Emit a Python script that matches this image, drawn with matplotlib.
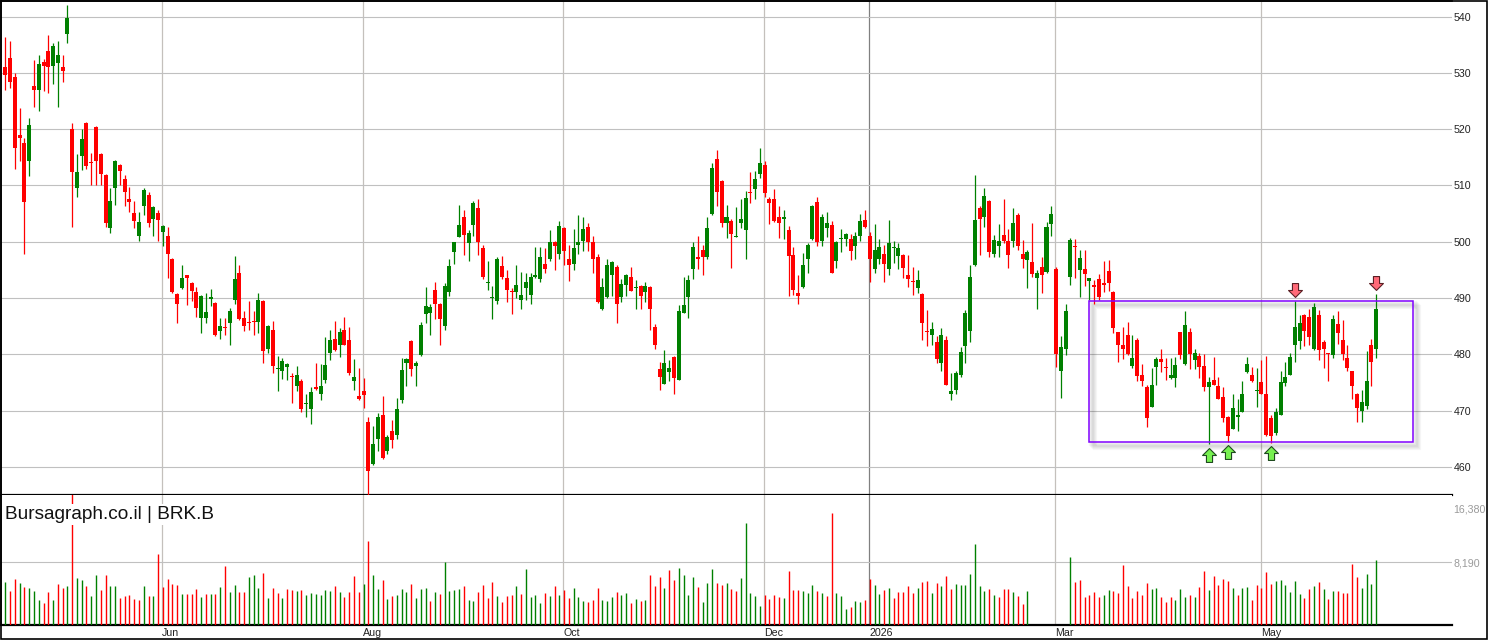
import numpy as np
import matplotlib
matplotlib.use("Agg")
import matplotlib.pyplot as plt
import matplotlib.transforms as mtransforms
from matplotlib.path import Path
from matplotlib.patches import Rectangle

plt.rcParams['font.family'] = ['Liberation Sans', 'DejaVu Sans']

# daily OHLC (BRK.B)
opens = [
    531.1, 532.7, 529.3, 519.0, 517.6, 514.3, 527.6, 526.9, 531.9, 533.8,
    531.2, 531.8, 531.1, 536.9, 520.0, 509.6, 515.2, 521.0, 514.2, 520.3,
    515.6, 511.9, 502.5, 509.6, 513.7, 511.2, 507.5, 505.1, 501.1, 506.4,
    508.3, 504.1, 505.1, 501.8, 501.1, 497.0, 490.7, 491.7, 494.0, 492.7,
    491.0, 486.4, 486.4, 489.8, 489.1, 484.2, 484.9, 485.5, 489.6, 494.5,
    486.5, 485.8, 486.0, 485.8, 489.5, 480.9, 484.4, 477.3, 477.1, 477.8,
    476.2, 474.3, 475.3, 471.2, 470.2, 474.0, 473.0, 475.5, 480.3, 482.7,
    481.7, 484.4, 482.6, 475.2, 472.6, 473.5, 468.0, 460.5, 465.0, 469.2,
    462.9, 466.4, 465.6, 471.8, 478.4, 482.4, 478.0, 479.8, 487.1, 487.3,
    491.5, 489.0, 485.1, 491.1, 498.1, 500.9, 504.3, 499.7, 502.9, 506.0,
    498.9, 492.6, 490.0, 489.4, 495.7, 493.6, 491.3, 491.0, 489.7, 491.8,
    490.6, 493.8, 493.3, 496.1, 497.0, 500.0, 497.8, 502.5, 497.0, 496.0,
    499.5, 500.2, 502.6, 500.0, 497.3, 488.1, 490.1, 494.0, 495.5, 490.1,
    492.3, 493.8, 491.7, 492.2, 491.0, 492.0, 484.9, 477.3, 474.8, 476.8,
    479.5, 475.5, 487.4, 490.1, 495.1, 497.2, 498.5, 497.2, 504.9, 514.7,
    510.8, 503.4, 503.7, 500.9, 503.4, 502.0, 508.8, 509.3, 512.0, 513.7,
    507.6, 507.5, 504.4, 504.0, 502.1, 497.7, 490.9, 491.9, 496.9, 500.4,
    507.1, 500.1, 502.4, 503.0, 496.5, 500.4, 500.4, 500.5, 499.3, 501.1,
    503.9, 501.1, 495.1, 496.9, 497.9, 495.1, 498.9, 497.4, 497.7, 494.1,
    492.9, 491.7, 490.7, 484.0, 483.4, 482.2, 478.5, 482.6, 473.0, 473.7,
    476.4, 481.4, 484.1, 495.8, 505.9, 504.3, 507.3, 497.9, 499.3, 501.2,
    500.2, 500.1, 504.8, 497.9, 496.7, 496.4, 493.5, 495.5, 494.7, 503.1,
    495.2, 477.1, 481.0, 493.8, 499.3, 494.9, 495.2, 493.1, 492.3, 493.4,
    492.7, 494.8, 491.1, 483.9, 481.6, 483.5, 478.0, 482.6, 476.3, 474.2,
    470.7, 477.8, 479.1, 477.8, 475.7, 475.7, 483.9, 478.2, 484.0, 478.9,
    479.7, 477.9, 474.1, 475.5, 474.3, 472.4, 468.9, 466.8, 468.9, 469.8,
    476.8, 476.3, 473.4, 475.1, 473.0, 468.6, 466.1, 469.3, 474.9, 476.4,
    481.7, 482.4, 487.0, 486.6, 481.0, 487.0, 482.1, 480.1, 479.8, 485.4,
    482.6, 479.4, 477.0, 473.0, 470.0, 470.9, 481.6, 481.0,
]
highs = [
    536.4, 535.7, 530.0, 523.8, 518.5, 522.0, 532.2, 533.1, 532.4, 536.8,
    535.3, 535.6, 533.2, 542.0, 521.0, 515.6, 520.0, 521.2, 515.8, 520.5,
    515.8, 512.0, 509.6, 514.5, 513.8, 511.9, 509.8, 507.3, 505.3, 509.6,
    508.9, 506.4, 505.6, 502.9, 502.6, 497.1, 490.8, 495.9, 494.1, 492.8,
    492.0, 490.5, 490.9, 491.6, 489.2, 486.4, 486.4, 488.3, 497.5, 495.9,
    487.7, 489.5, 487.6, 490.9, 489.7, 485.2, 485.9, 479.7, 479.4, 478.4,
    476.6, 477.9, 475.6, 472.9, 474.1, 478.5, 478.2, 483.0, 484.4, 485.9,
    484.7, 486.7, 484.9, 479.2, 477.6, 475.8, 468.8, 467.3, 469.5, 472.5,
    465.7, 468.3, 472.3, 479.3, 479.3, 482.5, 478.8, 485.8, 492.0, 488.9,
    492.9, 489.1, 492.6, 497.0, 500.0, 506.6, 505.6, 502.0, 507.3, 507.5,
    499.4, 496.6, 492.1, 497.2, 497.5, 495.0, 491.8, 495.9, 494.7, 494.4,
    494.5, 499.1, 499.1, 498.8, 502.0, 500.2, 503.6, 502.6, 499.4, 502.3,
    504.8, 504.3, 503.4, 501.1, 497.9, 493.6, 497.0, 496.6, 495.9, 493.3,
    494.3, 495.5, 493.2, 492.3, 492.9, 492.2, 485.4, 478.7, 480.8, 479.0,
    479.7, 488.8, 493.8, 494.0, 500.0, 501.1, 499.4, 504.3, 514.0, 516.3,
    511.0, 506.6, 504.1, 506.2, 507.6, 509.0, 512.3, 512.6, 516.7, 514.4,
    508.0, 509.4, 506.4, 505.7, 502.8, 499.1, 494.1, 498.0, 499.8, 506.5,
    508.0, 505.0, 505.3, 503.7, 500.2, 502.2, 501.5, 501.4, 501.7, 505.0,
    505.7, 501.8, 503.2, 500.5, 499.5, 503.9, 500.2, 499.8, 497.9, 497.6,
    495.5, 495.0, 490.8, 487.9, 485.8, 483.3, 484.7, 483.3, 476.7, 477.1,
    481.3, 487.9, 495.9, 511.9, 506.4, 509.6, 507.4, 501.2, 503.2, 507.6,
    502.3, 505.9, 505.1, 500.3, 498.5, 503.4, 495.0, 497.2, 503.5, 506.4,
    495.5, 483.3, 489.0, 500.7, 500.5, 498.5, 498.5, 493.6, 493.2, 494.3,
    496.5, 496.8, 491.3, 484.0, 484.9, 485.8, 483.4, 482.9, 478.2, 474.6,
    477.5, 479.6, 481.0, 479.4, 479.4, 479.6, 484.0, 487.7, 484.7, 481.0,
    480.3, 480.0, 476.0, 479.5, 475.9, 474.1, 469.0, 472.9, 472.0, 475.3,
    479.5, 477.8, 477.5, 478.9, 479.7, 469.3, 470.5, 477.1, 478.7, 480.3,
    489.4, 487.0, 487.1, 488.1, 489.1, 487.9, 482.6, 480.3, 487.0, 487.6,
    486.1, 481.7, 477.1, 473.1, 473.7, 480.5, 482.8, 490.7,
]
lows = [
    526.9, 527.3, 512.9, 514.4, 497.9, 511.6, 523.9, 523.2, 526.7, 526.5,
    528.1, 523.9, 528.3, 535.3, 502.7, 507.9, 512.8, 513.0, 510.1, 510.1,
    510.1, 502.7, 501.5, 506.6, 510.0, 506.4, 505.3, 502.5, 500.2, 504.8,
    502.7, 501.1, 500.1, 499.3, 493.5, 490.9, 485.5, 491.6, 488.8, 489.4,
    486.6, 483.8, 485.6, 488.5, 483.2, 482.7, 483.5, 481.6, 488.9, 486.1,
    484.1, 484.3, 483.4, 483.8, 478.5, 480.3, 476.6, 473.4, 475.6, 475.4,
    471.3, 473.4, 469.8, 468.8, 467.6, 473.7, 471.8, 474.9, 479.0, 480.6,
    479.5, 481.6, 476.3, 473.7, 471.9, 470.5, 454.4, 460.3, 462.9, 461.4,
    462.3, 463.4, 464.9, 471.4, 474.3, 476.2, 474.4, 479.7, 485.6, 483.5,
    486.3, 481.7, 484.4, 490.4, 496.0, 500.8, 497.6, 496.5, 501.1, 497.6,
    493.3, 491.4, 486.2, 489.0, 493.3, 489.3, 487.1, 490.0, 488.0, 489.7,
    489.0, 493.5, 492.9, 494.5, 496.5, 494.9, 496.9, 495.8, 493.1, 494.9,
    497.9, 498.4, 498.4, 494.4, 489.1, 487.8, 490.0, 490.3, 485.6, 489.2,
    490.3, 491.2, 488.1, 488.0, 489.2, 484.4, 481.0, 473.6, 474.7, 475.2,
    473.0, 475.4, 487.3, 486.5, 493.3, 495.1, 494.0, 496.9, 504.8, 506.3,
    502.7, 500.6, 495.4, 500.8, 502.4, 497.0, 506.8, 507.5, 511.4, 508.0,
    503.1, 503.5, 500.6, 500.4, 490.4, 490.6, 488.9, 491.8, 494.4, 500.3,
    499.3, 499.3, 500.9, 494.4, 495.4, 498.1, 499.2, 496.7, 497.0, 500.2,
    502.4, 492.8, 494.4, 496.0, 492.9, 494.0, 496.3, 495.1, 493.5, 491.9,
    490.6, 490.8, 482.6, 481.4, 481.6, 478.4, 477.0, 474.5, 471.8, 472.9,
    476.0, 478.4, 482.1, 495.7, 497.6, 502.7, 497.2, 497.2, 497.2, 499.7,
    495.4, 499.0, 498.6, 495.4, 491.7, 493.7, 488.1, 490.8, 494.4, 501.1,
    477.8, 472.3, 479.8, 492.3, 493.5, 490.1, 492.2, 489.6, 488.9, 489.7,
    491.0, 491.3, 483.7, 478.7, 479.1, 479.9, 477.5, 475.3, 474.3, 467.0,
    470.6, 474.6, 476.8, 475.4, 475.6, 474.1, 479.1, 478.1, 477.3, 477.3,
    475.7, 473.4, 464.0, 474.5, 472.0, 468.0, 464.5, 466.7, 466.4, 469.7,
    476.7, 475.0, 470.7, 472.9, 465.5, 464.3, 465.6, 469.2, 474.3, 476.3,
    478.7, 481.0, 481.4, 481.7, 480.7, 478.9, 477.5, 475.3, 479.4, 481.9,
    478.9, 477.0, 472.1, 467.9, 468.0, 470.2, 474.4, 479.3,
]
closes = [
    529.6, 528.3, 516.6, 518.4, 507.0, 520.8, 526.9, 531.6, 531.2, 531.0,
    534.7, 533.2, 530.3, 539.8, 512.3, 512.4, 518.3, 513.4, 513.9, 514.4,
    512.0, 503.4, 507.3, 514.4, 512.5, 508.8, 507.1, 503.6, 503.5, 509.2,
    503.3, 506.2, 503.9, 502.8, 497.9, 491.0, 488.9, 493.6, 493.5, 491.2,
    488.2, 490.4, 487.5, 490.2, 483.5, 485.1, 484.7, 487.7, 493.4, 486.2,
    485.1, 485.6, 485.8, 489.7, 480.5, 485.1, 478.0, 477.4, 478.8, 478.3,
    475.9, 476.3, 470.2, 471.4, 473.3, 473.9, 474.4, 478.1, 482.6, 480.7,
    484.0, 481.7, 476.6, 476.0, 472.0, 472.8, 459.2, 464.1, 468.9, 461.5,
    465.3, 464.7, 470.3, 477.2, 479.2, 477.3, 478.5, 485.2, 488.6, 488.4,
    489.0, 486.2, 492.2, 495.7, 499.9, 503.0, 501.2, 501.6, 506.9, 499.9,
    493.8, 492.7, 490.1, 497.0, 493.8, 491.5, 491.0, 492.3, 490.6, 492.9,
    493.8, 494.1, 497.2, 495.1, 500.0, 499.3, 502.8, 498.3, 495.9, 498.8,
    500.0, 502.3, 499.9, 496.9, 489.2, 492.0, 495.9, 496.4, 488.9, 492.4,
    494.1, 491.3, 491.8, 490.3, 492.2, 488.1, 481.6, 475.9, 478.5, 477.6,
    475.7, 487.7, 488.8, 493.2, 499.1, 497.0, 497.2, 502.5, 513.1, 508.9,
    503.3, 504.4, 501.3, 501.1, 504.1, 507.8, 508.6, 511.2, 513.9, 508.6,
    506.8, 503.6, 503.3, 504.4, 497.4, 491.5, 490.4, 495.9, 499.4, 506.4,
    499.9, 504.3, 503.4, 494.5, 500.0, 500.5, 501.4, 498.4, 501.1, 503.7,
    502.6, 496.9, 498.5, 499.1, 496.1, 499.8, 499.1, 498.8, 495.3, 493.3,
    492.8, 493.2, 485.5, 483.9, 484.5, 479.1, 483.5, 474.6, 473.5, 476.7,
    480.4, 487.4, 493.8, 503.9, 504.0, 508.2, 498.1, 500.3, 500.2, 500.1,
    497.6, 503.4, 499.2, 497.0, 498.2, 494.2, 494.5, 494.0, 502.6, 505.0,
    480.1, 481.3, 487.6, 500.3, 499.0, 497.1, 494.2, 493.6, 491.9, 490.1,
    492.3, 492.6, 484.6, 481.6, 481.0, 480.0, 479.4, 476.2, 475.3, 468.6,
    474.6, 479.2, 478.6, 477.5, 476.3, 478.1, 479.8, 485.2, 480.0, 480.3,
    477.8, 474.1, 475.1, 474.6, 472.1, 468.6, 465.4, 470.5, 469.2, 472.9,
    478.2, 475.3, 473.5, 473.0, 465.6, 465.4, 469.7, 475.1, 476.0, 479.5,
    484.9, 485.6, 484.2, 483.0, 488.4, 480.7, 481.0, 480.0, 486.3, 483.8,
    480.0, 477.5, 474.4, 470.4, 471.6, 475.3, 478.7, 488.1,
]
volumes = [
    5590, 4400, 5990, 5460, 4930, 4800, 4400, 3210, 2820, 4270,
    3210, 5320, 4800, 5060, 20000, 6120, 5850, 5060, 3740, 6510,
    4530, 6510, 5060, 5060, 3480, 3740, 3870, 3340, 3210, 5060,
    3740, 3740, 9280, 4930, 5990, 5320, 5190, 4000, 4000, 4000,
    4660, 3610, 4000, 4000, 4000, 4930, 7700, 4270, 5190, 4270,
    4270, 6250, 6510, 4800, 6780, 3480, 4800, 4140, 3480, 4660,
    4530, 4400, 4530, 3870, 4140, 4000, 3870, 4530, 4400, 5060,
    4270, 3610, 4270, 6380, 4310, 5280, 11040, 6510, 4660, 5850,
    3340, 3740, 3870, 4660, 4270, 5320, 3480, 4660, 4800, 3080,
    4270, 4000, 8230, 4400, 4530, 4660, 5060, 3210, 3080, 4270,
    5190, 3480, 5590, 3740, 2950, 3740, 3870, 5060, 4000, 7300,
    3610, 3870, 2820, 4140, 3740, 5060, 3870, 4530, 3480, 4800,
    3610, 3080, 2950, 3210, 4800, 3210, 3080, 3610, 4270, 3870,
    4140, 2820, 3340, 3080, 3210, 6510, 5060, 6250, 4800, 7170,
    5850, 7440, 6510, 3870, 6250, 4930, 2950, 5460, 7300, 5460,
    5190, 5460, 4660, 4400, 6120, 13380, 4140, 3740, 2420, 3870,
    3340, 3870, 3610, 3480, 7040, 4530, 4530, 4400, 4140, 5190,
    4400, 4140, 3740, 14700, 4140, 3740, 2020, 2290, 3080, 2950,
    3210, 5990, 5190, 4000, 4530, 4800, 3480, 4270, 4270, 5060,
    4140, 4800, 5590, 5720, 4140, 5460, 5060, 6380, 4660, 5320,
    5190, 5190, 6640, 10600, 5060, 4400, 4660, 3870, 3610, 4660,
    4660, 4270, 3740, 2680, 4400, 0, 0, 0, 0, 0,
    0, 0, 0, 8890, 5590, 5850, 3610, 3870, 4270, 3610,
    3870, 4530, 4400, 4140, 7840, 5060, 3480, 4400, 3870, 5460,
    4660, 4800, 3610, 2950, 3610, 3210, 4660, 3610, 3870, 3610,
    4930, 7040, 4530, 6380, 5190, 5990, 5720, 4800, 3870, 4800,
    4930, 3210, 5190, 4800, 6910, 5320, 5720, 5850, 5190, 4270,
    5720, 4000, 3480, 4660, 5060, 5590, 4660, 3340, 4400, 4400,
    4140, 4140, 7970, 6250, 4800, 6640, 5320, 8490,
]

# first trading day of each labelled month (bar index)
month_labels = ['Jun', 'Aug', 'Oct', 'Dec', '2026', 'Mar', 'May']
month_starts = [33, 75, 117, 159, 181, 220, 263]

# trading range box drawn on the chart
range_start, range_end = 226.8, 294.8
range_low, range_high = 464.4, 489.4
support_hits = [252, 256, 265]
resistance_hits = [270, 287]

W, H = 1488, 640


def rect(x0, y0, x1, y1):
    return [x0 / W, 1 - y1 / H, (x1 - x0) / W, (y1 - y0) / H]


fig = plt.figure(figsize=(W / 100, H / 100), dpi=100)
ax = fig.add_axes(rect(1, 0.5, 1452, 495))
axv = fig.add_axes(rect(1, 495, 1452, 624.5), sharex=ax)

o = np.array(opens)
h = np.array(highs)
l = np.array(lows)
c = np.array(closes)
v = np.array(volumes)
x = np.arange(len(o))

red, green = '#FF0000', '#008000'
cols = np.where(c >= o, green, red)

# price panel
ax.vlines(x, l, h, colors=cols, lw=0.9, zorder=3)
ax.bar(x, np.maximum(np.abs(c - o), 0.2), bottom=np.minimum(o, c), width=0.84,
       color=cols, linewidth=0, zorder=4)

ax.set_xlim(-0.9, 302.9)
ax.set_ylim(455.0, 542.85)
ax.set_yticks(np.arange(460, 541, 10))
ax.yaxis.tick_right()
ax.tick_params(axis='y', length=0, pad=1, labelsize=7.7, labelcolor='#222222')
ax.tick_params(axis='x', length=0, labelbottom=False)
ax.grid(axis='y', color='#C0C0C0', lw=0.8, zorder=0)
ax.spines['right'].set_visible(False)
ax.spines['bottom'].set_linewidth(1.6)
ax.spines['top'].set_linewidth(1.2)
ax.spines['left'].set_linewidth(1.2)

# volume panel, coloured by close versus previous close
prev = np.concatenate([[c[0]], c[:-1]])
vcols = np.where(c >= prev, green, red)
vcols[0] = green
m = v > 0
axv.vlines(x[m], 0, v[m], colors=vcols[m], lw=1.0, zorder=3)
axv.set_ylim(0, 17080)
axv.set_yticks([8190])
axv.set_yticklabels(['8,190'])
axv.yaxis.tick_right()
axv.tick_params(axis='y', length=0, pad=1, labelsize=7.7, labelcolor='#9a9a9a')
axv.tick_params(axis='x', length=0, labelbottom=False)
axv.grid(axis='y', color='#C0C0C0', lw=0.8, zorder=0)
lab_tr = mtransforms.blended_transform_factory(axv.transAxes, axv.transData)
axv.text(1.0, 16380, '16,380',
         transform=lab_tr + mtransforms.ScaledTranslation(0.01, -0.09, fig.dpi_scale_trans),
         va='center', ha='left', fontsize=7.7, color='#9a9a9a')
axv.spines['right'].set_visible(False)
axv.spines['top'].set_visible(False)
axv.spines['bottom'].set_linewidth(1.6)
axv.spines['left'].set_linewidth(1.2)

# month grid + labels
for lab, s in zip(month_labels, month_starts):
    gx = s - 0.15
    gc = '#808080' if lab == '2026' else '#C4C0BC'
    ax.axvline(gx, color=gc, lw=0.9, zorder=1)
    axv.axvline(gx, color=gc, lw=0.9, zorder=1)
    axv.text(gx, -0.062, lab,
             transform=mtransforms.blended_transform_factory(axv.transData, axv.transAxes),
             ha='left', va='center', fontsize=7.7, color='#222222')

# trading range box with soft shadow
for d in [2, 3, 4, 5, 6]:
    sh = mtransforms.ScaledTranslation(d / 100, -d / 100, fig.dpi_scale_trans)
    ax.add_patch(Rectangle((range_start, range_low), range_end - range_start, range_high - range_low,
                           fill=False, edgecolor='#000000', alpha=0.035, lw=3.0,
                           transform=ax.transData + sh, zorder=2))
ax.add_patch(Rectangle((range_start, range_low), range_end - range_start, range_high - range_low,
                       fill=False, edgecolor='#8000FF', lw=1.1, zorder=5))

# block arrows at the touches
up_arrow = Path([(0, 0.5), (0.5, 0), (0.22, 0), (0.22, -0.5), (-0.22, -0.5), (-0.22, 0), (-0.5, 0), (0, 0.5)],
                [Path.MOVETO] + [Path.LINETO] * 6 + [Path.CLOSEPOLY])
down_arrow = Path([(0, -0.5), (0.5, 0), (0.22, 0), (0.22, 0.5), (-0.22, 0.5), (-0.22, 0), (-0.5, 0), (0, -0.5)],
                  [Path.MOVETO] + [Path.LINETO] * 6 + [Path.CLOSEPOLY])
below = ax.transData + mtransforms.ScaledTranslation(0, -0.105, fig.dpi_scale_trans)
above = ax.transData + mtransforms.ScaledTranslation(0, 0.11, fig.dpi_scale_trans)
ax.plot(support_hits, l[support_hits], ls='none', marker=up_arrow, markersize=10,
        markerfacecolor='#77F050', markeredgecolor='#1f4a1f', markeredgewidth=0.8,
        transform=below, zorder=6, clip_on=False)
ax.plot(resistance_hits, h[resistance_hits], ls='none', marker=down_arrow, markersize=10,
        markerfacecolor='#FF6A78', markeredgecolor='#5a1f24', markeredgewidth=0.8,
        transform=above, zorder=6, clip_on=False)

fig.text(5 / W, 1 - 519.3 / H, 'Bursagraph.co.il | BRK.B', fontsize=13.7, color='#111111',
         ha='left', va='baseline', zorder=10,
         bbox=dict(facecolor='white', edgecolor='none', pad=1.5))

# outer frame
fig.add_artist(Rectangle((0.5 / W, 0.8 / H), (W - 1.5) / W, (H - 1.3) / H, transform=fig.transFigure,
                         fill=False, edgecolor='black', lw=1.2))

fig.savefig('out.png', dpi=100, facecolor='white')
